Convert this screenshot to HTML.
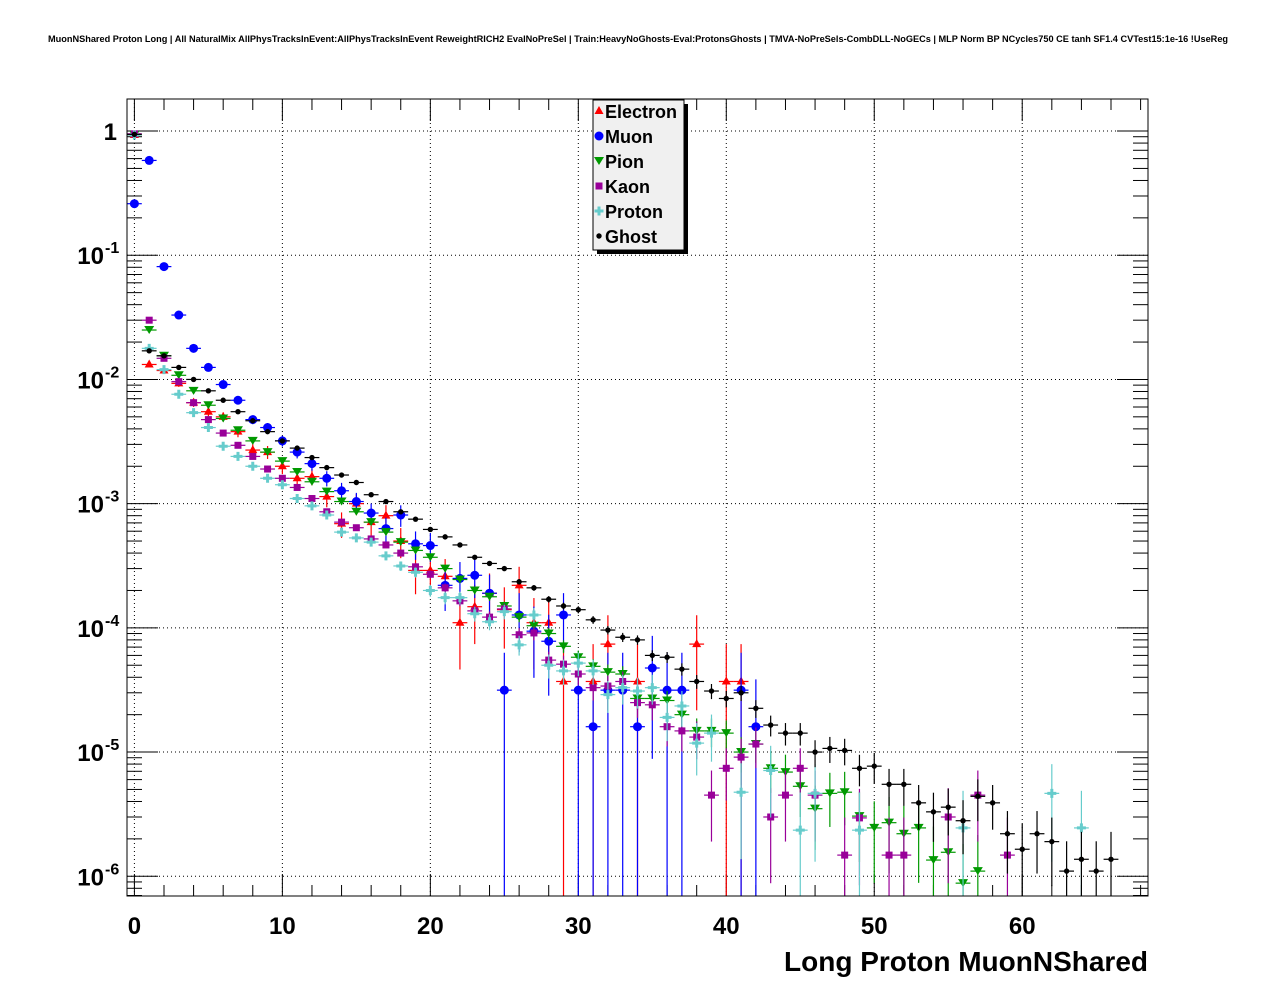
<!DOCTYPE html>
<html><head><meta charset="utf-8">
<style>
html,body{margin:0;padding:0;background:#fff;}
svg{display:block;font-family:"Liberation Sans",sans-serif;}
</style></head>
<body>
<svg id="chart" width="1276" height="996" viewBox="0 0 1276 996" xmlns="http://www.w3.org/2000/svg">
<rect x="0" y="0" width="1276" height="996" fill="#fff"/>
<text x="638" y="42" text-anchor="middle" font-size="9.2" font-weight="bold">MuonNShared Proton Long | All NaturalMix AllPhysTracksInEvent:AllPhysTracksInEvent ReweightRICH2 EvalNoPreSel | Train:HeavyNoGhosts-Eval:ProtonsGhosts | TMVA-NoPreSels-CombDLL-NoGECs | MLP Norm BP NCycles750 CE tanh SF1.4 CVTest15:1e-16 !UseReg</text>
<g id="grid"></g>
<g id="axes"></g>
<g id="series"></g>
<rect x="127" y="99" width="1021" height="797" fill="none" stroke="#000" stroke-width="1"/>
<text x="1148" y="971" text-anchor="end" font-size="28" font-weight="bold">Long Proton MuonNShared</text>
<g id="legend"></g>
</svg>
<script>
const binCenters = Array.from({length:67},(_,i)=>i);
const electronVals=[0.93,1.32e-2,1.18e-2,9.3e-3,6.5e-3,5.5e-3,5.0e-3,3.8e-3,2.7e-3,2.6e-3,2.0e-3,1.6e-3,1.65e-3,1.14e-3,6.9e-4,1.0e-3,7.1e-4,8.0e-4,5.0e-4,2.9e-4,2.9e-4,2.6e-4,1.1e-4,1.48e-4,1.9e-4,1.4e-4,2.2e-4,1.1e-4,1.1e-4,3.7e-5,null,3.7e-5,7.4e-5,null,3.7e-5,null,null,null,7.4e-5,null,3.7e-5,3.7e-5];
const muonVals=[0.26,0.58,8.1e-2,3.3e-2,1.78e-2,1.25e-2,9.1e-3,6.8e-3,4.75e-3,4.1e-3,3.2e-3,2.6e-3,2.1e-3,1.6e-3,1.27e-3,1.04e-3,8.4e-4,6.3e-4,8.1e-4,4.75e-4,4.6e-4,2.2e-4,2.5e-4,2.65e-4,1.9e-4,3.15e-5,1.27e-4,9.4e-5,7.8e-5,1.27e-4,3.15e-5,1.6e-5,3.15e-5,3.15e-5,1.6e-5,4.75e-5,3.15e-5,3.15e-5,null,null,null,3.15e-5,1.6e-5];
const pionVals=[0.93,2.5e-2,1.55e-2,1.08e-2,8.1e-3,6.2e-3,4.85e-3,3.9e-3,3.2e-3,2.6e-3,2.2e-3,1.8e-3,1.5e-3,1.25e-3,1.04e-3,8.6e-4,7.1e-4,5.9e-4,4.9e-4,4.2e-4,3.7e-4,3.0e-4,2.45e-4,2.0e-4,1.78e-4,1.5e-4,1.22e-4,1.04e-4,9.0e-5,7.1e-5,5.8e-5,4.9e-5,4.4e-5,4.25e-5,2.7e-5,2.7e-5,2.6e-5,2.0e-5,1.48e-5,1.48e-5,1.42e-5,1.0e-5,1.16e-5,7.4e-6,6.9e-6,5.3e-6,3.5e-6,4.65e-6,4.75e-6,3.05e-6,2.45e-6,2.7e-6,2.2e-6,2.45e-6,1.35e-6,1.56e-6,0.88e-6,1.1e-6];
const kaonVals=[0.95,3.0e-2,1.48e-2,9.6e-3,6.5e-3,4.75e-3,3.7e-3,2.95e-3,2.4e-3,1.9e-3,1.6e-3,1.35e-3,1.1e-3,8.6e-4,7.1e-4,6.4e-4,5.2e-4,4.65e-4,4.0e-4,3.1e-4,2.7e-4,2.1e-4,1.65e-4,1.37e-4,1.22e-4,1.42e-4,8.8e-5,9.1e-5,5.5e-5,5.1e-5,4.25e-5,3.3e-5,3.4e-5,3.7e-5,2.5e-5,2.4e-5,1.6e-5,1.48e-5,1.32e-5,4.5e-6,7.4e-6,9.1e-6,1.16e-5,3.0e-6,4.5e-6,7.4e-6,4.5e-6,null,1.48e-6,2.95e-6,null,1.48e-6,1.48e-6,null,null,3.0e-6,null,4.5e-6,null,1.48e-6];
const protonVals=[0.93,1.78e-2,1.2e-2,7.6e-3,5.4e-3,4.1e-3,2.9e-3,2.4e-3,2.0e-3,1.6e-3,1.42e-3,1.1e-3,9.6e-4,8.1e-4,5.9e-4,5.3e-4,4.9e-4,3.8e-4,3.15e-4,2.8e-4,2.0e-4,1.75e-4,1.75e-4,1.3e-4,1.12e-4,1.35e-4,7.3e-5,1.27e-4,5.0e-5,4.5e-5,5.2e-5,4.5e-5,2.9e-5,3.3e-5,3.1e-5,3.3e-5,1.9e-5,2.35e-5,1.18e-5,1.42e-5,null,4.75e-6,null,7.1e-6,null,2.35e-6,4.65e-6,null,null,2.35e-6,null,null,null,null,null,null,2.45e-6,null,null,null,null,null,4.65e-6,null,2.45e-6];
const ghostVals=[0.94,1.7e-2,1.55e-2,1.25e-2,1.0e-2,8.1e-3,6.8e-3,5.5e-3,4.65e-3,3.8e-3,3.2e-3,2.8e-3,2.35e-3,1.95e-3,1.7e-3,1.48e-3,1.18e-3,1.04e-3,8.6e-4,7.5e-4,6.2e-4,5.4e-4,4.65e-4,3.7e-4,3.3e-4,3.0e-4,2.35e-4,2.1e-4,1.7e-4,1.5e-4,1.4e-4,1.16e-4,9.6e-5,8.4e-5,8.0e-5,6.0e-5,5.8e-5,4.65e-5,3.7e-5,3.1e-5,2.7e-5,3.0e-5,2.25e-5,1.65e-5,1.42e-5,1.42e-5,1.0e-5,1.07e-5,1.03e-5,7.4e-6,7.7e-6,5.5e-6,5.5e-6,3.9e-6,3.3e-6,3.6e-6,2.8e-6,4.4e-6,3.9e-6,2.2e-6,1.65e-6,2.2e-6,1.9e-6,1.1e-6,1.37e-6,1.1e-6,1.37e-6];
const seriesNames=["Electron","Muon","Pion","Kaon","Proton","Ghost"];
const eventWeights=[3.7e-5,3.15e-5,1.0e-6,1.5e-6,2.4e-6,6e-7];
const xTickLabels=[0,10,20,30,40,50,60];
const yTickExps=[0,-1,-2,-3,-4,-5,-6];

const NS="http://www.w3.org/2000/svg";
const L=127,R=1148,T=99,B=896;
const XMIN=-0.5,XMAX=68.5;
const LOGMAX=0.258,LOGMIN=-6.159;
function xs(v){return L+(v-XMIN)/(XMAX-XMIN)*(R-L);}
function ys(v){return T+(LOGMAX-Math.log10(v))/(LOGMAX-LOGMIN)*(B-T);}
function mk(tag,attrs,parent){const e=document.createElementNS(NS,tag);for(const k in attrs)e.setAttribute(k,attrs[k]);parent.appendChild(e);return e;}

const grid=document.getElementById('grid');
const axes=document.getElementById('axes');
xTickLabels.forEach(t=>{
  const x=xs(t);
  const g=mk('line',{x1:x,x2:x,y1:T,y2:B,stroke:'#000','stroke-width':1,'stroke-dasharray':'1,3'},grid);
  
  
  const lb=mk('text',{x:x,y:934,'text-anchor':'middle','font-size':24,'font-weight':'bold'},axes);
  lb.textContent=t;
  
  
});
for(let t=0;t<=68;t+=2){
  const x=xs(t);const len=(t%10===0)?22:11;
  mk('line',{x1:x,x2:x,y1:B,y2:B-len,stroke:'#000','stroke-width':1},axes);
  mk('line',{x1:x,x2:x,y1:T,y2:T+len,stroke:'#000','stroke-width':1},axes);
}
yTickExps.forEach(e=>{
  const y=ys(Math.pow(10,e));
  const g=mk('line',{x1:L,x2:R,y1:y,y2:y,stroke:'#000','stroke-width':1,'stroke-dasharray':'1,3'},grid);
  
  
  mk('line',{x1:L,x2:L+31,y1:y,y2:y,stroke:'#000'},axes);
  mk('line',{x1:R,x2:R-31,y1:y,y2:y,stroke:'#000'},axes);
  const lb=mk('text',{x:e===0?117:104,y:y+9,'text-anchor':'end','font-size':24,'font-weight':'bold'},axes);
  
  
  if(e===0){lb.textContent='1';}
  else{
    lb.textContent='10';
    const s=mk('text',{x:105,y:y-2,'font-size':16,'font-weight':'bold'},axes);
    s.textContent=String(e);
  }
  for(let m=2;m<=9;m++){
    const v=m*Math.pow(10,e);
    if(Math.log10(v)>LOGMAX)continue;
    const ym=ys(v);
    mk('line',{x1:L,x2:L+15,y1:ym,y2:ym,stroke:'#000'},axes);
    mk('line',{x1:R,x2:R-15,y1:ym,y2:ym,stroke:'#000'},axes);
  }
});
{for(let m=7;m<=9;m++){const v=m*1e-7;if(Math.log10(v)<LOGMIN)continue;const ym=ys(v);mk('line',{x1:L,x2:L+15,y1:ym,y2:ym,stroke:'#000'},axes);mk('line',{x1:R,x2:R-15,y1:ym,y2:ym,stroke:'#000'},axes);}}

const colors=['#ff0000','#0000ff','#009900','#990099','#66cccc','#000000'];
const allVals=[electronVals,muonVals,pionVals,kaonVals,protonVals,ghostVals];
function marker(k,x,y,parent){
  const c=colors[k];let el;
  if(k===0) el=mk('polygon',{points:`${x},${y-5} ${x+4.5},${y+3} ${x-4.5},${y+3}`,fill:c},parent);
  else if(k===1) el=mk('circle',{cx:x,cy:y,r:4.5,fill:c},parent);
  else if(k===2) el=mk('polygon',{points:`${x-5},${y-4} ${x+5},${y-4} ${x},${y+4}`,fill:c},parent);
  else if(k===3) el=mk('rect',{x:x-3.5,y:y-3.5,width:7,height:7,fill:c},parent);
  else if(k===4) el=mk('path',{d:`M${x-1.5},${y-4.5}h3v3h3v3h-3v3h-3v-3h-3v-3h3z`,fill:c},parent);
  else el=mk('circle',{cx:x,cy:y,r:2.7,fill:c},parent);
  return el;
}
const sg=document.getElementById('series');
allVals.forEach((vals,k)=>{
  const g=mk('g',{},sg);
  
  
  vals.forEach((v,i)=>{
    if(v===null||v===undefined||v<=0)return;
    const x=xs(binCenters[i]),y=ys(v);
    const err=Math.sqrt(v*eventWeights[k]);
    const hi=ys(v+err);const lo=(v-err)>Math.pow(10,LOGMIN)?ys(v-err):B;
    mk('line',{x1:x,x2:x,y1:Math.max(T,hi),y2:Math.min(B,lo),stroke:colors[k],'stroke-width':1.2},g);
    mk('line',{x1:xs(binCenters[i]-0.5),x2:xs(binCenters[i]+0.5),y1:y,y2:y,stroke:colors[k],'stroke-width':1.2},g);
    const m=marker(k,x,y,g);
    
    
  });
});

const lg=document.getElementById('legend');
mk('rect',{x:597,y:104,width:91,height:150,fill:'#000'},lg);
mk('rect',{x:593,y:100,width:91,height:150,fill:'#f0f0f0',stroke:'#000','stroke-width':1},lg);
seriesNames.forEach((n,k)=>{
  const y=111+k*25;
  const g=mk('g',{},lg);
  
  
  marker(k,599,y,g);
  const t=mk('text',{x:605,y:y+7,'font-size':18,'font-weight':'bold'},g);
  t.textContent=n;
});
</script>
</body></html>
